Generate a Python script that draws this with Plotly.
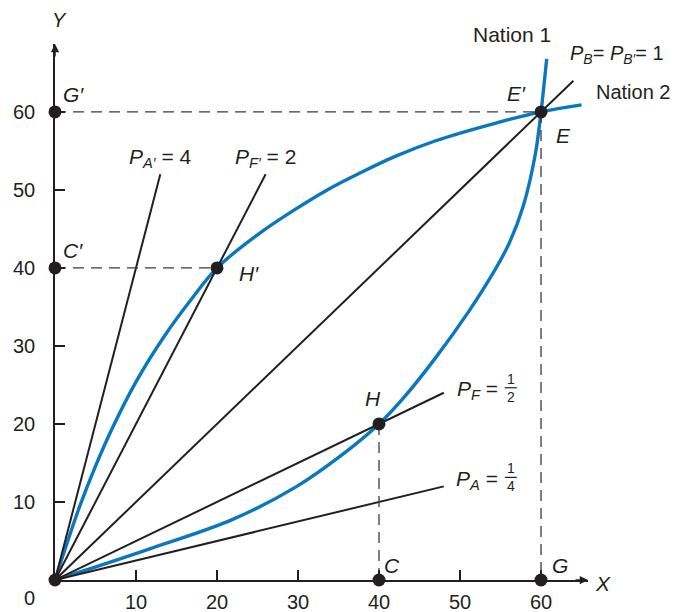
import plotly.graph_objects as go

# ---------------- data ----------------
nation1_x = [0, 3.3, 11.7, 21.8, 29.7, 35.5, 40, 43, 47, 51, 54, 56, 57.8, 59.3, 60, 60.7]
nation1_y = [0, 1.1, 4.0, 7.7, 11.9, 16.1, 20, 23.3, 28.5, 34.3, 39.2, 43.0, 47.9, 54.6, 60, 66.8]

nation2_x = [0, 1, 3, 5, 7, 10, 13.6, 17, 20, 25.2, 29.5, 33.6, 37.9, 42.0, 47.0, 54.2, 60, 65.0]
nation2_y = [0, 3.2, 9.3, 14.6, 19.3, 25.4, 31.4, 36.2, 40, 44.4, 47.4, 50.0, 52.3, 54.3, 56.3, 58.5, 60, 60.9]

# price lines: slope and end x
price_slopes = [4, 2, 1, 0.5, 0.25]
price_end_x = [13, 26, 64, 48, 48]

# labelled points
pt_names = ["O", "G'", "C'", "H'", "E", "H", "C", "G"]
pt_x = [0, 0, 0, 20, 60, 40, 40, 60]
pt_y = [0, 60, 40, 40, 60, 20, 0, 0]

# dashed guide segments (pairs of point names)
guides = [("G'", "E"), ("E", "G"), ("C'", "H'"), ("H", "C")]

x_ticks = [10, 20, 30, 40, 50, 60]
y_ticks = [10, 20, 30, 40, 50, 60]

BLUE = "#0a78c0"
INK = "#231f20"
DASH = "#3a3a3a"
FONT = "Liberation Sans, Arial, sans-serif"
FS = 21

fig = go.Figure()

# blue offer curves
fig.add_trace(go.Scatter(x=nation1_x, y=nation1_y, mode="lines",
                         line=dict(color=BLUE, width=3.4, shape="spline", smoothing=1.0),
                         hoverinfo="skip", showlegend=False))
fig.add_trace(go.Scatter(x=nation2_x, y=nation2_y, mode="lines",
                         line=dict(color=BLUE, width=3.4, shape="spline", smoothing=1.0),
                         hoverinfo="skip", showlegend=False))

# price rays from origin
for s, xe in zip(price_slopes, price_end_x):
    fig.add_trace(go.Scatter(x=[0, xe], y=[0, s * xe], mode="lines",
                             line=dict(color=INK, width=2),
                             hoverinfo="skip", showlegend=False))

# dashed guides
pos = {n: (x, y) for n, x, y in zip(pt_names, pt_x, pt_y)}
for a, b in guides:
    fig.add_trace(go.Scatter(x=[pos[a][0], pos[b][0]], y=[pos[a][1], pos[b][1]], mode="lines",
                             line=dict(color=DASH, width=1.3, dash="11px,7px"),
                             hoverinfo="skip", showlegend=False))

# dots
fig.add_trace(go.Scatter(x=pt_x, y=pt_y, mode="markers",
                         marker=dict(color=INK, size=13),
                         cliponaxis=False, hoverinfo="skip", showlegend=False))

# ---------------- layout ----------------
# page body has an 8px margin, so the figure is 8px smaller than the window
L, R, T, B = 47, 92, 36, 32
fig.update_layout(
    width=672, height=604, autosize=False,
    margin=dict(l=L, r=R, t=T, b=B, autoexpand=False),
    paper_bgcolor="white", plot_bgcolor="white",
    font=dict(family=FONT, size=FS, color=INK),
    showlegend=False,
)
fig.update_xaxes(range=[0, 65.8], showgrid=False, zeroline=False, automargin=False,
                 showline=True, linecolor=INK, linewidth=1.5,
                 ticks="inside", ticklen=10, tickwidth=1.5, tickcolor=INK,
                 tickvals=x_ticks, ticktext=[str(v) for v in x_ticks],
                 ticklabelstandoff=3, tickfont=dict(size=20, color=INK))
fig.update_yaxes(range=[0, 68.7], showgrid=False, zeroline=False, automargin=False,
                 showline=True, linecolor=INK, linewidth=1.5,
                 ticks="inside", ticklen=10, tickwidth=1.5, tickcolor=INK,
                 tickvals=y_ticks, ticktext=[str(v) for v in y_ticks],
                 ticklabelstandoff=14, tickfont=dict(size=20, color=INK))

ann = []
def lab(x, y, text, xs=0, ys=0, xanchor="center", size=FS, ref="data"):
    d = dict(x=x, y=y, text=text, showarrow=False, xshift=xs, yshift=ys,
             xanchor=xanchor, yanchor="middle", font=dict(size=size, color=INK, family=FONT))
    if ref == "paper":
        d.update(xref="paper", yref="paper")
    ann.append(d)

# axis arrows
ann.append(dict(x=1, y=0, xref="paper", yref="paper", ax=-14, ay=0, text="",
                showarrow=True, arrowhead=2, arrowsize=1.1, arrowwidth=1.5, arrowcolor=INK))
ann.append(dict(x=0, y=1, xref="paper", yref="paper", ax=0, ay=14, text="",
                showarrow=True, arrowhead=2, arrowsize=1.1, arrowwidth=1.5, arrowcolor=INK))

# axis titles and origin
lab(1.028, -0.006, "<i>X</i>", ref="paper")
lab(0.009, 1.045, "<i>Y</i>", ref="paper", size=20)
lab(-0.047, -0.034, "0", ref="paper", size=20)

# point labels
lab(0, 60, "<i>G′</i>", xs=18, ys=17)
lab(0, 40, "<i>C′</i>", xs=18, ys=17)
lab(20, 40, "<i>H′</i>", xs=32, ys=-6)
lab(60, 60, "<i>E′</i>", xs=-25, ys=18)
lab(60, 60, "<i>E</i>", xs=22, ys=-24)
lab(40, 20, "<i>H</i>", xs=-6, ys=25)
lab(40, 0, "<i>C</i>", xs=13, ys=15)
lab(60, 0, "<i>G</i>", xs=19, ys=15)

# curve labels
lab(nation1_x[-1], nation1_y[-1], "Nation 1", xs=-35, ys=24)
lab(nation2_x[-1], nation2_y[-1], "Nation 2", xs=12, ys=13, xanchor="left", size=20)

# price labels
lab(price_end_x[0], price_slopes[0] * price_end_x[0], "<i>P<sub>A′</sub></i> = 4", ys=16)
lab(price_end_x[1], price_slopes[1] * price_end_x[1], "<i>P<sub>F′</sub></i> = 2", ys=16)
lab(price_end_x[2], price_slopes[2] * price_end_x[2], "<i>P<sub>B</sub></i>= <i>P<sub>B′</sub></i>= 1",
    xs=-5, ys=26, xanchor="left", size=20)
lab(price_end_x[3], price_slopes[3] * price_end_x[3], "<i>P<sub>F</sub></i> =", xs=56, ys=3, xanchor="right")
lab(price_end_x[4], price_slopes[4] * price_end_x[4], "<i>P<sub>A</sub></i> =", xs=56, ys=6, xanchor="right")
lab(price_end_x[3], price_slopes[3] * price_end_x[3], "1<br>2", xs=67, ys=5, size=14)
lab(price_end_x[4], price_slopes[4] * price_end_x[4], "1<br>4", xs=67, ys=9, size=14)

fig.update_layout(annotations=ann)

# fraction bars
shapes = []
for xe, s, dy in [(price_end_x[3], price_slopes[3], 5), (price_end_x[4], price_slopes[4], 9)]:
    shapes.append(dict(type="line", xref="x", yref="y", xsizemode="pixel", ysizemode="pixel",
                       xanchor=xe, yanchor=s * xe, x0=61, x1=73, y0=dy, y1=dy,
                       line=dict(color=INK, width=1.2)))
fig.update_layout(shapes=shapes)

fig.write_html("out.html")
